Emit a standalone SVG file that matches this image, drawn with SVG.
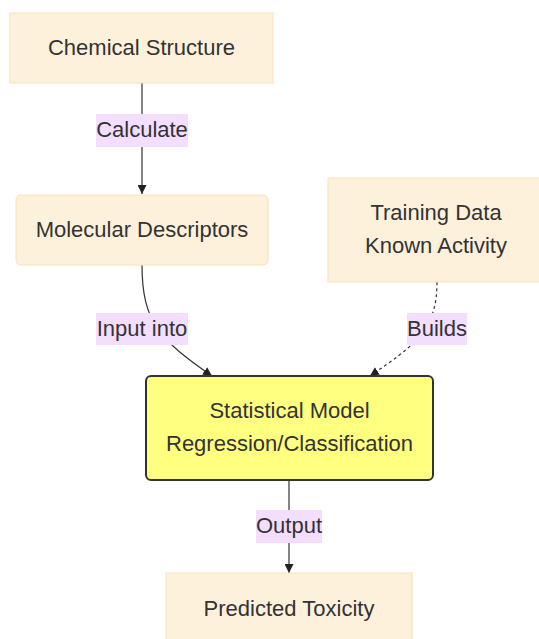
<svg xmlns="http://www.w3.org/2000/svg" width="539" height="639" viewBox="0 0 539 639">
  <style>
    .node rect { fill: #fdf1dc; stroke: #f6e2bd; stroke-width: 1; }
    .node.model rect { fill: #ffff80; stroke: #333333; stroke-width: 2; }
    text { font-family: "Liberation Sans", Arial, sans-serif; font-size: 22px; fill: #333333; text-anchor: middle; }
    .edge { fill: none; stroke: #333333; stroke-width: 1.2; }
    .dotted { stroke-dasharray: 3 3; }
    .lbl rect { fill: #f3defd; stroke: none; }
  </style>
  <defs>
    <marker id="arrow" viewBox="0 0 10 10" refX="10" refY="5" markerWidth="9" markerHeight="9" markerUnits="userSpaceOnUse" orient="auto">
      <path d="M0,0 L10,5 L0,10 Z" fill="#222222"/>
    </marker>
  </defs>

  <!-- connectors -->
  <g id="connectors">
    <path class="edge" d="M142,83 L142,194" marker-end="url(#arrow)"/>
    <path class="edge" d="M142,265 C142,322 160,340 212,376" marker-end="url(#arrow)"/>
    <path class="edge dotted" d="M437,282 C437,330 415,345 370,376" marker-end="url(#arrow)"/>
    <path class="edge" d="M289,480 L289,573" marker-end="url(#arrow)"/>

    <g class="lbl">
      <rect x="96" y="114" width="92" height="33"/>
      <text x="142" y="137">Calculate</text>
    </g>
    <g class="lbl">
      <rect x="96" y="313" width="92" height="32"/>
      <text x="142" y="336">Input into</text>
    </g>
    <g class="lbl">
      <rect x="407" y="313" width="60" height="32"/>
      <text x="437" y="336">Builds</text>
    </g>
    <g class="lbl">
      <rect x="256" y="510" width="66" height="33"/>
      <text x="289" y="533">Output</text>
    </g>
  </g>

  <!-- nodes -->
  <g id="chemical-structure" class="node">
    <rect x="10" y="13" width="263" height="70"/>
    <text x="141.5" y="55">Chemical Structure</text>
  </g>
  <g id="molecular-descriptors" class="node">
    <rect x="16" y="195" width="252" height="70" rx="5" ry="5"/>
    <text x="142" y="237">Molecular Descriptors</text>
  </g>
  <g id="training-data" class="node">
    <rect x="328" y="178" width="216" height="104"/>
    <text x="436" y="220">Training Data</text>
    <text x="436" y="253">Known Activity</text>
  </g>
  <g id="statistical-model" class="node model">
    <rect x="146" y="376" width="287" height="104" rx="5" ry="5"/>
    <text x="289.5" y="417.5">Statistical Model</text>
    <text x="289.5" y="450.5">Regression/Classification</text>
  </g>
  <g id="predicted-toxicity" class="node">
    <rect x="166" y="573" width="246" height="72"/>
    <text x="289" y="615.5">Predicted Toxicity</text>
  </g>
</svg>
